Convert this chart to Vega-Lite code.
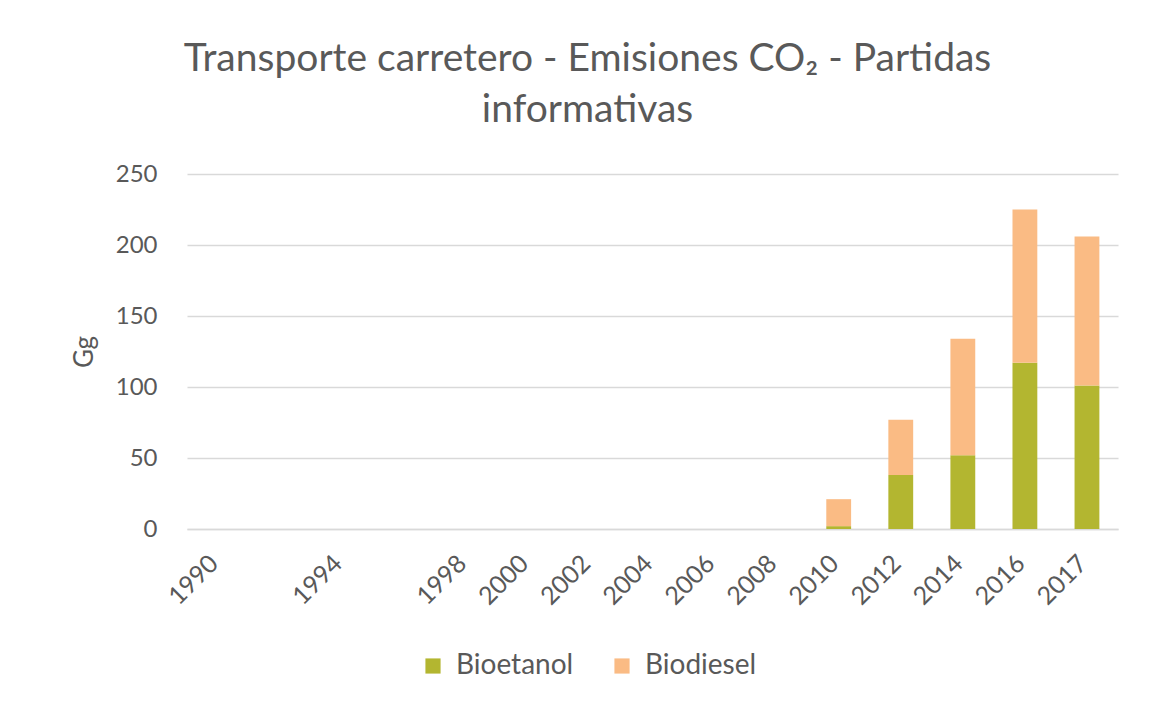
{
  "$schema": "https://vega.github.io/schema/vega-lite/v6.json",
  "width": 931,
  "height": 355,
  "autosize": {"type": "none"},
  "padding": {"left": 187, "top": 174, "right": 35, "bottom": 185},
  "background": "white",
  "title": {
    "text": ["Transporte carretero - Emisiones CO₂ - Partidas", "informativas"],
    "anchor": "middle",
    "dx": -65,
    "offset": 32,
    "font": "Lato",
    "fontSize": 39,
    "fontWeight": "normal",
    "lineHeight": 51,
    "color": "#595959"
  },
  "data": {
    "values": [
      {"anio": "1990", "serie": "Bioetanol", "orden": 1, "valor": 0},
      {"anio": "1990", "serie": "Biodiesel", "orden": 2, "valor": 0},
      {"anio": "1992", "serie": "Bioetanol", "orden": 1, "valor": 0},
      {"anio": "1992", "serie": "Biodiesel", "orden": 2, "valor": 0},
      {"anio": "1994", "serie": "Bioetanol", "orden": 1, "valor": 0},
      {"anio": "1994", "serie": "Biodiesel", "orden": 2, "valor": 0},
      {"anio": "1996", "serie": "Bioetanol", "orden": 1, "valor": 0},
      {"anio": "1996", "serie": "Biodiesel", "orden": 2, "valor": 0},
      {"anio": "1998", "serie": "Bioetanol", "orden": 1, "valor": 0},
      {"anio": "1998", "serie": "Biodiesel", "orden": 2, "valor": 0},
      {"anio": "2000", "serie": "Bioetanol", "orden": 1, "valor": 0},
      {"anio": "2000", "serie": "Biodiesel", "orden": 2, "valor": 0},
      {"anio": "2002", "serie": "Bioetanol", "orden": 1, "valor": 0},
      {"anio": "2002", "serie": "Biodiesel", "orden": 2, "valor": 0},
      {"anio": "2004", "serie": "Bioetanol", "orden": 1, "valor": 0},
      {"anio": "2004", "serie": "Biodiesel", "orden": 2, "valor": 0},
      {"anio": "2006", "serie": "Bioetanol", "orden": 1, "valor": 0},
      {"anio": "2006", "serie": "Biodiesel", "orden": 2, "valor": 0},
      {"anio": "2008", "serie": "Bioetanol", "orden": 1, "valor": 0},
      {"anio": "2008", "serie": "Biodiesel", "orden": 2, "valor": 0},
      {"anio": "2010", "serie": "Bioetanol", "orden": 1, "valor": 2},
      {"anio": "2010", "serie": "Biodiesel", "orden": 2, "valor": 19},
      {"anio": "2012", "serie": "Bioetanol", "orden": 1, "valor": 38},
      {"anio": "2012", "serie": "Biodiesel", "orden": 2, "valor": 39},
      {"anio": "2014", "serie": "Bioetanol", "orden": 1, "valor": 52},
      {"anio": "2014", "serie": "Biodiesel", "orden": 2, "valor": 82},
      {"anio": "2016", "serie": "Bioetanol", "orden": 1, "valor": 117},
      {"anio": "2016", "serie": "Biodiesel", "orden": 2, "valor": 108},
      {"anio": "2017", "serie": "Bioetanol", "orden": 1, "valor": 101},
      {"anio": "2017", "serie": "Biodiesel", "orden": 2, "valor": 105}
    ]
  },
  "mark": {"type": "bar"},
  "encoding": {
    "x": {
      "field": "anio",
      "type": "ordinal",
      "sort": null,
      "scale": {"paddingInner": 0.6, "paddingOuter": 0.3},
      "axis": {
        "title": null,
        "labelAngle": -45,
        "labelAlign": "right",
        "labelBaseline": "middle",
        "labelPadding": 30,
        "labelOffset": -4,
        "labelExpr": "datum.value == '1992' || datum.value == '1996' ? '' : datum.value",
        "labelFont": "Lato",
        "labelFontSize": 25,
        "labelColor": "#595959",
        "ticks": false,
        "domainColor": "#d9d9d9",
        "domainWidth": 1.5,
        "grid": false
      }
    },
    "y": {
      "field": "valor",
      "type": "quantitative",
      "stack": "zero",
      "scale": {"domain": [0, 250]},
      "axis": {
        "title": "Gg",
        "titleFont": "Lato",
        "titleFontSize": 26,
        "titleFontWeight": "normal",
        "titleColor": "#595959",
        "titlePadding": 18,
        "values": [0, 50, 100, 150, 200, 250],
        "labelFont": "Lato",
        "labelFontSize": 24,
        "labelColor": "#595959",
        "labelPadding": 30,
        "ticks": false,
        "domain": false,
        "gridColor": "#d9d9d9",
        "gridWidth": 1.5
      }
    },
    "color": {
      "field": "serie",
      "type": "nominal",
      "scale": {"domain": ["Bioetanol", "Biodiesel"], "range": ["#b3b630", "#fabb84"]},
      "legend": {
        "title": null,
        "orient": "none",
        "direction": "horizontal",
        "legendX": 232,
        "legendY": 478,
        "symbolType": "square",
        "symbolSize": 230,
        "symbolStrokeWidth": 0,
        "labelFont": "Lato",
        "labelFontSize": 28,
        "labelColor": "#595959",
        "columnPadding": 34,
        "labelOffset": 9
      }
    },
    "order": {"field": "orden", "type": "quantitative"}
  },
  "config": {
    "view": {"stroke": null}
  }
}
